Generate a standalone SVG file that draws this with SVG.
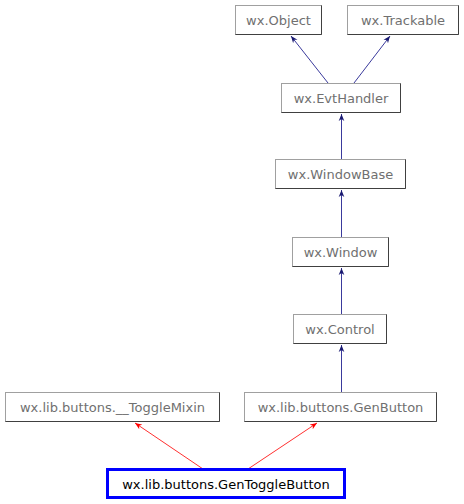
<svg xmlns="http://www.w3.org/2000/svg" width="464" height="504" viewBox="0 0 464 504">
<defs>
<style>
.box rect{fill:#fff;stroke:#a0a0a0;stroke-width:1}
.box path{fill:none;stroke:#404040;stroke-width:1}
.box text{font-family:"DejaVu Sans",sans-serif;font-size:13px;fill:#707070;text-anchor:middle}
.main rect{fill:#fff;stroke:#0000ff;stroke-width:3}
.main text{font-family:"DejaVu Sans",sans-serif;font-size:13px;fill:#000;text-anchor:middle}
.blue{stroke:#3a3a9c;stroke-width:1;fill:none;marker-end:url(#ab)}
.red{stroke:#ff3030;stroke-width:1;fill:none;marker-end:url(#ar)}
</style>
<marker id="ab" viewBox="0 0 10 10" refX="10" refY="5" markerWidth="7" markerHeight="7" orient="auto" markerUnits="userSpaceOnUse"><path d="M0,1 L10,5 L0,9 L3,5 Z" fill="#191970"/></marker>
<marker id="ar" viewBox="0 0 10 10" refX="10" refY="5" markerWidth="7" markerHeight="7" orient="auto" markerUnits="userSpaceOnUse"><path d="M0,1 L10,5 L0,9 L3,5 Z" fill="#ff0000"/></marker>
</defs>
<g id="connectors">
<line class="blue" x1="328" y1="83" x2="291" y2="36"/>
<line class="blue" x1="354" y1="83" x2="390" y2="36"/>
<line class="blue" x1="341.5" y1="159" x2="341.5" y2="114"/>
<line class="blue" x1="341.5" y1="237" x2="341.5" y2="190"/>
<line class="blue" x1="341.5" y1="314" x2="341.5" y2="268"/>
<line class="blue" x1="341.5" y1="392" x2="341.5" y2="345"/>
<line class="red" x1="203" y1="469" x2="135" y2="423"/>
<line class="red" x1="248" y1="469" x2="317" y2="423"/>
</g>
<g id="wx.Object" class="box"><rect x="235.5" y="5.5" width="86" height="29"/><path d="M321.5,5.5 V34.5 H235.5"/><text x="278.5" y="24.5">wx.Object</text></g>
<g id="wx.Trackable" class="box"><rect x="347.5" y="5.5" width="111" height="29"/><path d="M458.5,5.5 V34.5 H347.5"/><text x="403" y="24.5">wx.Trackable</text></g>
<g id="wx.EvtHandler" class="box"><rect x="281.5" y="83.5" width="119" height="29"/><path d="M400.5,83.5 V112.5 H281.5"/><text x="341" y="102.5">wx.EvtHandler</text></g>
<g id="wx.WindowBase" class="box"><rect x="275.5" y="159.5" width="130" height="29"/><path d="M405.5,159.5 V188.5 H275.5"/><text x="340.5" y="178.5">wx.WindowBase</text></g>
<g id="wx.Window" class="box"><rect x="292.5" y="237.5" width="96" height="29"/><path d="M388.5,237.5 V266.5 H292.5"/><text x="340.5" y="256.5">wx.Window</text></g>
<g id="wx.Control" class="box"><rect x="293.5" y="314.5" width="93" height="29"/><path d="M386.5,314.5 V343.5 H293.5"/><text x="340" y="333.5">wx.Control</text></g>
<g id="wx.lib.buttons.__ToggleMixin" class="box"><rect x="5.5" y="392.5" width="214" height="29"/><path d="M219.5,392.5 V421.5 H5.5"/><text x="112.5" y="411.5">wx.lib.buttons.__ToggleMixin</text></g>
<g id="wx.lib.buttons.GenButton" class="box"><rect x="244.5" y="392.5" width="192" height="29"/><path d="M436.5,392.5 V421.5 H244.5"/><text x="340.5" y="411.5">wx.lib.buttons.GenButton</text></g>
<g id="wx.lib.buttons.GenToggleButton" class="main"><rect x="107.5" y="469.5" width="237" height="28"/><text x="226" y="488.5">wx.lib.buttons.GenToggleButton</text></g>
</svg>
